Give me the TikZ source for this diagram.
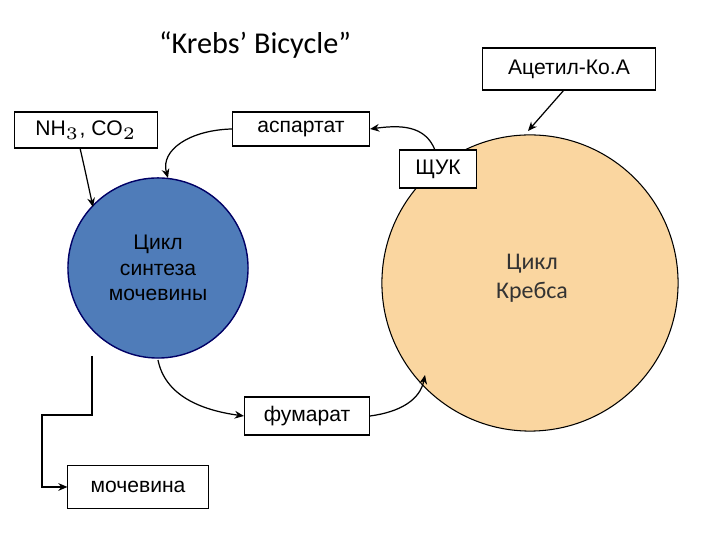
\documentclass[tikz,border=0pt]{standalone}
\usepackage{fontspec}
\setmainfont{Liberation Sans}
\newfontfamily\calfnt{Carlito}
\usetikzlibrary{arrows.meta}
\begin{document}
\begin{tikzpicture}[x=0.01cm,y=-0.01cm,
 bx/.style={draw,fill=white,inner sep=0pt,line width=0.3pt,font=\fontsize{6}{7}\selectfont},
 ar/.style={-{Stealth[length=2.6pt,width=2.2pt]},line width=0.35pt}]
\useasboundingbox (0,0) rectangle (720,540);
\node[font=\calfnt\fontsize{8.6}{10}\selectfont] (t) at (255,45) {“Krebs’ Bicycle”};
\node[circle,draw=black!60!blue,fill={rgb,255:red,79;green,124;blue,185},minimum size=1.8cm,line width=0.4pt,align=center,font=\fontsize{6}{7.2}\selectfont] (u) at (158,268) {Цикл\\синтеза\\мочевины};
\node[circle,draw,fill={rgb,255:red,250;green,214;blue,160},minimum size=2.96cm,line width=0.3pt] (k) at (530,283) {};
\node[align=center,font=\calfnt\fontsize{6.8}{8.2}\selectfont,text=black!80] at (532,278) {Цикл\\Кребса};
\node[bx,minimum width=1.72cm,minimum height=0.42cm] (a) at (569,69) {Ацетил-Ко.А};
\node[bx,minimum width=1.43cm,minimum height=0.36cm] (n) at (86,130) {NH$_3$, CO$_2$};
\node[bx,minimum width=1.37cm,minimum height=0.34cm] (s) at (301,129) {аспартат};
\node[bx,minimum width=0.77cm,minimum height=0.38cm] (q) at (438,169) {ЩУК};
\node[bx,minimum width=1.25cm,minimum height=0.38cm] (f) at (307,416) {фумарат};
\node[bx,minimum width=1.40cm,minimum height=0.43cm] (m) at (138,487) {мочевина};
\coordinate (c1) at (92,356);
\coordinate (c2) at (42,415);
\draw[ar] (564,90) -- (528,131);
\draw[ar] (80,148) .. controls (85,170) .. (93,207);
\draw[ar] (s.west) .. controls (190,130) and (160,150) .. (168,178);
\draw[ar] (435,150) .. controls (425,125) and (400,125) .. (s.east);
\draw[ar] (158,360) .. controls (165,395) and (200,410) .. (f.west);
\draw[ar] (f.east) .. controls (400,412) and (420,400) .. (425,375);
\draw[ar] (c1) -- (92,415) -- (c2) -- (42,487) -- (m.west);
\end{tikzpicture}
\end{document}
